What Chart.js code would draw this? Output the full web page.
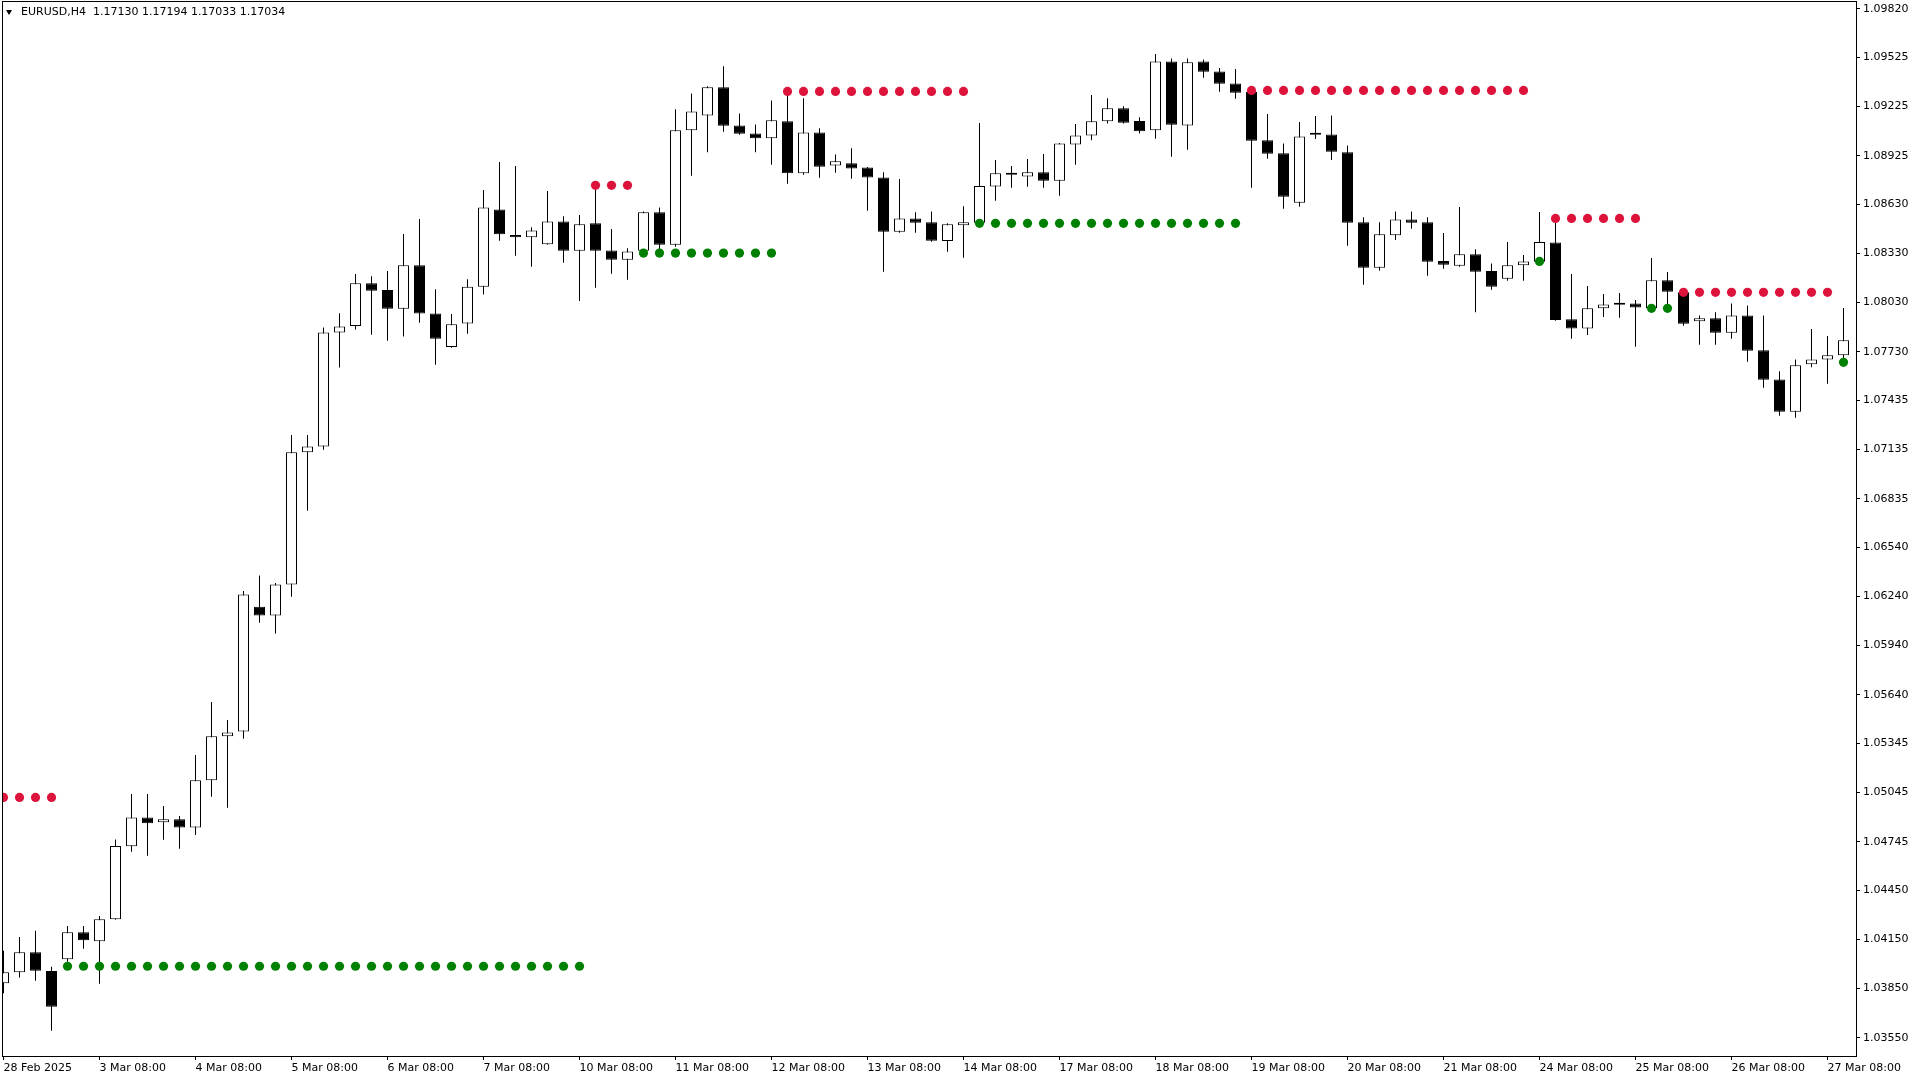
<!DOCTYPE html>
<html>
<head>
<meta charset="utf-8">
<title>EURUSD,H4</title>
<script src="https://cdn.jsdelivr.net/npm/chart.js@4.4.1/dist/chart.umd.min.js"></script>
<style>
  html, body { margin: 0; padding: 0; background: #fff; }
  #wrap { position: relative; width: 1920px; height: 1080px; overflow: hidden; }
  #chart { display: block; }
  #tri {
    position: absolute; left: 6px; top: 10px; width: 0; height: 0;
    border-left: 3.5px solid transparent; border-right: 3.5px solid transparent;
    border-top: 5px solid #000;
  }
  #header {
    position: absolute; left: 21px; top: 5px;
    font: 11px "DejaVu Sans", sans-serif; line-height: 14px;
    color: #000; white-space: pre;
  }
</style>
</head>
<body>
<div id="wrap">
  <canvas id="chart" width="1920" height="1080"></canvas>
  <div id="tri"></div>
  <div id="header">EURUSD,H4  1.17130 1.17194 1.17033 1.17034</div>
</div>
<script>
// EURUSD H4 candles, 28 Feb 2025 08:00 .. 27 Mar 2025 12:00 (one value per bar)
const opens = [
  1.03882, 1.03949, 1.04071, 1.03957, 1.04028, 1.04193, 1.04138, 1.04272, 1.04717, 1.04893,
  1.04863, 1.04881, 1.04832, 1.05119, 1.05387, 1.05417, 1.06177, 1.06123, 1.06313, 1.07118,
  1.07153, 1.07848, 1.07888, 1.08148, 1.08107, 1.07992, 1.08258, 1.07963, 1.07760, 1.07902,
  1.08127, 1.08598, 1.08442, 1.08428, 1.08385, 1.08525, 1.08346, 1.08513, 1.08348, 1.08291,
  1.08346, 1.08580, 1.08383, 1.09080, 1.09171, 1.09342, 1.09110, 1.09061, 1.09031, 1.09135,
  1.08818, 1.09067, 1.08866, 1.08879, 1.08854, 1.08793, 1.08462, 1.08543, 1.08519, 1.08405,
  1.08501, 1.08517, 1.08738, 1.08818, 1.08799, 1.08824, 1.08773, 1.08994, 1.09049, 1.09135,
  1.09214, 1.09136, 1.09080, 1.09500, 1.09110, 1.09500, 1.09439, 1.09366, 1.09315, 1.09020,
  1.08940, 1.08638, 1.09053, 1.09055, 1.08946, 1.08519, 1.08242, 1.08440, 1.08537, 1.08519,
  1.08283, 1.08255, 1.08324, 1.08222, 1.08175, 1.08257, 1.08279, 1.08397, 1.07928, 1.07873,
  1.07995, 1.08021, 1.08025, 1.07995, 1.08166, 1.08093, 1.07916, 1.07934, 1.07846, 1.07952,
  1.07739, 1.07562, 1.07365, 1.07654, 1.07684, 1.07709
];
const highs = [
  1.04080, 1.04164, 1.04202, 1.03983, 1.04231, 1.04231, 1.04292, 1.04759, 1.05035, 1.05035,
  1.04962, 1.04901, 1.05273, 1.05596, 1.05486, 1.06272, 1.06367, 1.06322, 1.07224, 1.07224,
  1.07879, 1.07965, 1.08204, 1.08191, 1.08222, 1.08448, 1.08540, 1.08112, 1.07961, 1.08172,
  1.08716, 1.08887, 1.08862, 1.08489, 1.08710, 1.08557, 1.08564, 1.08745, 1.08478, 1.08362,
  1.08586, 1.08610, 1.09208, 1.09305, 1.09348, 1.09471, 1.09183, 1.09116, 1.09262, 1.09317,
  1.09275, 1.09092, 1.08933, 1.08970, 1.08856, 1.08824, 1.08783, 1.08580, 1.08586, 1.08513,
  1.08618, 1.09124, 1.08899, 1.08862, 1.08905, 1.08935, 1.09002, 1.09118, 1.09295, 1.09276,
  1.09226, 1.09159, 1.09545, 1.09518, 1.09518, 1.09512, 1.09459, 1.09453, 1.09325, 1.09179,
  1.09000, 1.09130, 1.09167, 1.09171, 1.08988, 1.08550, 1.08519, 1.08586, 1.08586, 1.08550,
  1.08454, 1.08612, 1.08355, 1.08269, 1.08399, 1.08320, 1.08582, 1.08543, 1.08204, 1.08131,
  1.08082, 1.08088, 1.08046, 1.08302, 1.08216, 1.08095, 1.07952, 1.07971, 1.08025, 1.08013,
  1.07952, 1.07611, 1.07684, 1.07869, 1.07826, 1.07997
];
const lows = [
  1.03821, 1.03918, 1.03898, 1.03593, 1.04014, 1.04093, 1.03879, 1.04270, 1.04684, 1.04659,
  1.04757, 1.04702, 1.04786, 1.05019, 1.04952, 1.05372, 1.06079, 1.06013, 1.06238, 1.06761,
  1.07133, 1.07634, 1.07866, 1.07834, 1.07798, 1.07823, 1.07907, 1.07652, 1.07755, 1.07841,
  1.08080, 1.08407, 1.08316, 1.08249, 1.08383, 1.08273, 1.08040, 1.08121, 1.08206, 1.08169,
  1.08344, 1.08346, 1.08370, 1.08803, 1.08946, 1.09071, 1.09053, 1.08946, 1.08870, 1.08754,
  1.08809, 1.08791, 1.08821, 1.08785, 1.08590, 1.08218, 1.08456, 1.08456, 1.08401, 1.08340,
  1.08303, 1.08515, 1.08651, 1.08730, 1.08736, 1.08730, 1.08681, 1.08870, 1.09019, 1.09122,
  1.09122, 1.09061, 1.09028, 1.08919, 1.08961, 1.09400, 1.09315, 1.09272, 1.08730, 1.08907,
  1.08602, 1.08614, 1.09027, 1.08899, 1.08376, 1.08139, 1.08224, 1.08411, 1.08480, 1.08194,
  1.08236, 1.08249, 1.07972, 1.08108, 1.08163, 1.08163, 1.08277, 1.07919, 1.07810, 1.07832,
  1.07942, 1.07938, 1.07761, 1.07993, 1.07995, 1.07889, 1.07773, 1.07773, 1.07810, 1.07670,
  1.07511, 1.07341, 1.07328, 1.07636, 1.07536, 1.07666
];
const closes = [
  1.03949, 1.04071, 1.03959, 1.03739, 1.04193, 1.04144, 1.04272, 1.04719, 1.04893, 1.04857,
  1.04881, 1.04832, 1.05119, 1.05387, 1.05411, 1.06252, 1.06123, 1.06313, 1.07118, 1.07153,
  1.07848, 1.07884, 1.08148, 1.08103, 1.07992, 1.08258, 1.07963, 1.07810, 1.07898, 1.08127,
  1.08610, 1.08446, 1.08428, 1.08470, 1.08525, 1.08346, 1.08507, 1.08346, 1.08291, 1.08342,
  1.08580, 1.08383, 1.09080, 1.09195, 1.09342, 1.09108, 1.09059, 1.09031, 1.09141, 1.08818,
  1.09067, 1.08858, 1.08891, 1.08848, 1.08793, 1.08462, 1.08543, 1.08517, 1.08407, 1.08507,
  1.08519, 1.08740, 1.08818, 1.08809, 1.08824, 1.08773, 1.09000, 1.09049, 1.09135, 1.09214,
  1.09126, 1.09074, 1.09500, 1.09114, 1.09494, 1.09437, 1.09364, 1.09309, 1.09016, 1.08937,
  1.08675, 1.09043, 1.09055, 1.08949, 1.08517, 1.08242, 1.08446, 1.08537, 1.08517, 1.08279,
  1.08261, 1.08324, 1.08218, 1.08127, 1.08257, 1.08281, 1.08399, 1.07924, 1.07873, 1.07995,
  1.08019, 1.08017, 1.08001, 1.08166, 1.08096, 1.07901, 1.07934, 1.07846, 1.07952, 1.07737,
  1.07560, 1.07365, 1.07648, 1.07684, 1.07709, 1.07800
];

// indicator dots: [first bar, last bar, price level]
const redLevels = [
  [0, 3, 1.05015], [37, 39, 1.08745], [49, 60, 1.09317],
  [78, 95, 1.09323], [97, 102, 1.08543], [105, 114, 1.08093]
];
const greenLevels = [
  [4, 36, 1.03986], [40, 48, 1.08332], [61, 77, 1.08513],
  [96, 96, 1.08281], [103, 104, 1.07995], [115, 115, 1.07666]
];

// time axis labels (one per trading day) and the bar they sit on
const timeLabels = [
  '28 Feb 2025', '3 Mar 08:00', '4 Mar 08:00', '5 Mar 08:00', '6 Mar 08:00',
  '7 Mar 08:00', '10 Mar 08:00', '11 Mar 08:00', '12 Mar 08:00', '13 Mar 08:00',
  '14 Mar 08:00', '17 Mar 08:00', '18 Mar 08:00', '19 Mar 08:00', '20 Mar 08:00',
  '21 Mar 08:00', '24 Mar 08:00', '25 Mar 08:00', '26 Mar 08:00', '27 Mar 08:00'
];
const timeLabelBars = [0, 6, 12, 18, 24, 30, 36, 42, 48, 54, 60, 66, 72, 78, 84, 90, 96, 102, 108, 114];

// price axis labels
const priceLabels = [
  '1.09820', '1.09525', '1.09225', '1.08925', '1.08630', '1.08330', '1.08030', '1.07730',
  '1.07435', '1.07135', '1.06835', '1.06540', '1.06240', '1.05940', '1.05640', '1.05345',
  '1.05045', '1.04745', '1.04450', '1.04150', '1.03850', '1.03550'
];

const FONT = { family: 'DejaVu Sans', size: 11 };

function levelPoints(levels) {
  const pts = [];
  levels.forEach(([from, to, price]) => {
    for (let i = from; i <= to; i++) pts.push({ x: i, y: price });
  });
  return pts;
}

const bodies = opens.map((o, i) => ({ x: i, y: [o, closes[i]] }));
const wicks = lows.map((l, i) => ({ x: i, y: [l, highs[i]] }));
const bodyColors = opens.map((o, i) => (closes[i] >= o ? '#ffffff' : '#000000'));

// black frame around the plot area, like the terminal draws it
const framePlugin = {
  id: 'frame',
  afterDatasetsDraw(chart) {
    const { ctx, chartArea: a } = chart;
    ctx.save();
    ctx.strokeStyle = '#000';
    ctx.lineWidth = 1;
    ctx.strokeRect(a.left + 0.5, a.top + 0.5, a.right - a.left, a.bottom - a.top);
    ctx.restore();
  }
};

const ctx = document.getElementById('chart').getContext('2d');
new Chart(ctx, {
  type: 'bar',
  data: {
    datasets: [
      {
        type: 'line',
        label: 'Resistance',
        data: levelPoints(redLevels),
        showLine: false,
        pointRadius: 4.6,
        pointBorderWidth: 0,
        pointBackgroundColor: '#DC143C',
        order: 0
      },
      {
        type: 'line',
        label: 'Support',
        data: levelPoints(greenLevels),
        showLine: false,
        pointRadius: 4.6,
        pointBorderWidth: 0,
        pointBackgroundColor: '#008000',
        order: 0
      },
      {
        label: 'Body',
        data: bodies,
        backgroundColor: bodyColors,
        borderColor: '#000',
        borderWidth: 1,
        borderSkipped: false,
        barThickness: 11,
        minBarLength: 2,
        inflateAmount: 0,
        grouped: false,
        order: 1
      },
      {
        label: 'Wick',
        data: wicks,
        backgroundColor: '#000',
        borderWidth: 0,
        barThickness: 1,
        minBarLength: 1,
        inflateAmount: 0,
        grouped: false,
        order: 2
      }
    ]
  },
  options: {
    responsive: false,
    animation: false,
    devicePixelRatio: 1,
    events: [],
    layout: { autoPadding: false, padding: { top: 1, left: 2, right: 0, bottom: 0 } },
    plugins: {
      legend: { display: false },
      tooltip: { enabled: false }
    },
    scales: {
      x: {
        type: 'linear',
        min: -0.09375,
        max: 115.78125,
        offset: false,
        border: { display: false },
        grid: { offset: false, drawOnChartArea: false, drawTicks: true, tickLength: 4, color: '#000' },
        ticks: {
          autoSkip: false,
          maxRotation: 0,
          align: 'start',
          padding: 2,
          color: '#000',
          font: FONT,
          callback: (value) => {
            const k = timeLabelBars.indexOf(value);
            return k >= 0 ? timeLabels[k] : '';
          }
        },
        afterBuildTicks: (scale) => {
          scale.ticks = timeLabelBars.map(v => ({ value: v }));
        },
        afterFit: (scale) => {
          scale.height = 24;
          scale.paddingLeft = 0;
          scale.paddingRight = 0;
        }
      },
      y: {
        position: 'right',
        min: 1.03439,
        max: 1.09868,
        border: { display: false },
        grid: { drawOnChartArea: false, drawTicks: true, tickLength: 4, color: '#000' },
        ticks: {
          autoSkip: false,
          padding: 3,
          color: '#000',
          font: FONT,
          callback: (value) => value.toFixed(5)
        },
        afterBuildTicks: (scale) => {
          scale.ticks = priceLabels.map(s => ({ value: parseFloat(s) }));
        },
        afterFit: (scale) => {
          scale.width = 64;
          scale.paddingTop = 0;
          scale.paddingBottom = 0;
        }
      }
    }
  },
  plugins: [framePlugin]
});
</script>
</body>
</html>
